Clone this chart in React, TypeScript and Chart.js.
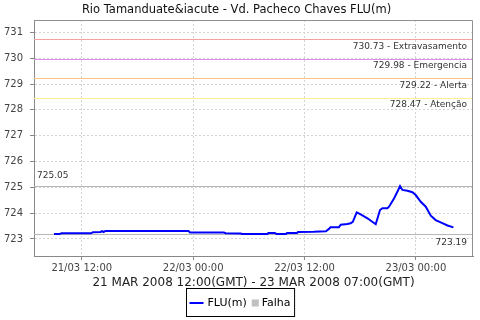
import React, { useEffect, useRef } from "react";
import { Chart, registerables } from "chart.js";

Chart.register(...registerables);

const chartTitle = "Rio Tamanduate&iacute - Vd. Pacheco Chaves FLU(m)";
const xAxisTitle = "21 MAR 2008 12:00(GMT) - 23 MAR 2008 07:00(GMT)";

// hours since 21/03 00:00 (local)
const hours = [
  9.0, 9.6, 9.8, 13.0, 13.2, 14.0, 14.2, 14.35, 14.55, 23.5, 23.65, 27.3, 27.5, 29.1,
  29.3, 32.0, 32.1, 32.8, 33.0, 34.0, 34.1, 35.2, 35.3, 37.0, 38.3, 38.6, 38.8, 39.7,
  39.9, 40.6, 40.97, 41.2, 41.62, 42.05, 42.77, 43.67, 44.13, 44.39, 44.93, 45.1,
  45.64, 46.0, 46.29, 46.54, 47.08, 47.62, 47.98, 48.52, 49.06, 49.6, 50.13, 50.85,
  51.4, 52.04,
];
const levels = [
  723.19, 723.19, 723.22, 723.22, 723.26, 723.27, 723.3, 723.27, 723.31, 723.31,
  723.25, 723.25, 723.22, 723.21, 723.19, 723.19, 723.23, 723.23, 723.19, 723.19,
  723.23, 723.23, 723.27, 723.28, 723.3, 723.38, 723.45, 723.45, 723.55, 723.58,
  723.61, 723.66, 724.03, 723.95, 723.8, 723.57, 724.12, 724.19, 724.19, 724.25,
  724.57, 724.83, 725.05, 724.9, 724.87, 724.81, 724.7, 724.44, 724.25, 723.9,
  723.73, 723.61, 723.52, 723.45,
];

const thresholdValues = [730.73, 729.98, 729.22, 728.47];
const thresholdNames = ["Extravasamento", "Emergencia", "Alerta", "Atenção"];
const maxLevel = 725.05;
const minLevel = 723.19;

const xTickValues = [12, 24, 36, 48];
const xTickLabels = ["21/03 12:00", "22/03 00:00", "22/03 12:00", "23/03 00:00"];
const yTickValues = [723, 724, 725, 726, 727, 728, 729, 730, 731];

const seriesLabels = ["FLU(m)", "Falha"];

const thresholdColors = ["#f2a0a0", "#dc8cec", "#ffc484", "#fff088"];
const FONT = '"DejaVu Sans", sans-serif';

const linesPlugin = {
  id: "levelLines",
  beforeDatasetsDraw(chart: any) {
    const { ctx, chartArea, scales } = chart;
    const y = scales.y;
    ctx.save();
    ctx.beginPath();
    ctx.rect(chartArea.left, chartArea.top, chartArea.right - chartArea.left, chartArea.bottom - chartArea.top);
    ctx.clip();
    ctx.lineWidth = 1.2;
    const hline = (v: number, color: string) => {
      const py = Math.round(y.getPixelForValue(v)) + 0.5;
      ctx.strokeStyle = color;
      ctx.beginPath();
      ctx.moveTo(chartArea.left, py);
      ctx.lineTo(chartArea.right, py);
      ctx.stroke();
    };
    thresholdValues.forEach((v, i) => hline(v, thresholdColors[i]));
    ctx.lineWidth = 1;
    hline(maxLevel, "#b8b8b8");
    hline(minLevel, "#b8b8b8");
    // top and right frame
    ctx.strokeStyle = "#909090";
    ctx.beginPath();
    ctx.moveTo(chartArea.left, chartArea.top + 0.5);
    ctx.lineTo(chartArea.right - 0.5, chartArea.top + 0.5);
    ctx.lineTo(chartArea.right - 0.5, chartArea.bottom);
    ctx.stroke();
    ctx.restore();
  },
  afterDraw(chart: any) {
    const { ctx, chartArea, scales } = chart;
    const y = scales.y;
    ctx.save();
    ctx.font = `9px ${FONT}`;
    ctx.fillStyle = "#333";
    ctx.textBaseline = "alphabetic";
    ctx.textAlign = "right";
    thresholdValues.forEach((v, i) => {
      const py = y.getPixelForValue(v);
      ctx.fillText(`${v.toFixed(2)} - ${thresholdNames[i]}`, chartArea.right - 6, py + 9.5);
    });
    ctx.fillText(minLevel.toFixed(2), chartArea.right - 6, y.getPixelForValue(minLevel) + 10.5);
    ctx.textAlign = "left";
    ctx.fillText(maxLevel.toFixed(2), chartArea.left + 3, y.getPixelForValue(maxLevel) - 8.5);

    // legend
    const ds = chart.data.datasets;
    ctx.font = `11px ${FONT}`;
    const w1 = ctx.measureText(ds[0].label).width;
    const w2 = ctx.measureText(ds[1].label).width;
    const total = 3 + 14 + 4 + w1 + 5 + 7 + 3 + w2 + 4;
    const bx = Math.round(chart.width / 2 - total / 2) + 0.5;
    const by = 288.5;
    const bh = 28;
    const cy = by + bh / 2 + 0.5;
    ctx.strokeStyle = "#000";
    ctx.lineWidth = 1;
    ctx.strokeRect(bx, by, total, bh);
    let x = bx + 3;
    ctx.strokeStyle = ds[0].borderColor;
    ctx.lineWidth = 2;
    ctx.beginPath();
    ctx.moveTo(x, cy);
    ctx.lineTo(x + 14, cy);
    ctx.stroke();
    x += 18;
    ctx.fillStyle = "#000";
    ctx.textBaseline = "middle";
    ctx.fillText(ds[0].label, x, cy);
    x += w1 + 5;
    ctx.fillStyle = ds[1].backgroundColor;
    ctx.fillRect(x, cy - 3.5, 7, 7);
    x += 10;
    ctx.fillStyle = "#000";
    ctx.fillText(ds[1].label, x, cy);
    ctx.restore();
  },
};

export default function App() {
  const ref = useRef<HTMLCanvasElement>(null);
  useEffect(() => {
    document.body.style.margin = "0";
    const chart = new Chart(ref.current!, {
      type: "line",
      data: {
        datasets: [
          {
            label: seriesLabels[0],
            data: hours.map((h, i) => ({ x: h, y: levels[i] })),
            borderColor: "#0000ff",
            backgroundColor: "#0000ff",
            borderWidth: 2,
            pointRadius: 0,
            tension: 0,
            fill: false,
          },
          {
            label: seriesLabels[1],
            data: [],
            borderColor: "#c0c0c0",
            backgroundColor: "#c0c0c0",
            pointRadius: 0,
          },
        ],
      },
      options: {
        responsive: false,
        animation: false,
        devicePixelRatio: 1,
        layout: { padding: { left: 0, right: 7, top: 0, bottom: 29.5 } },
        plugins: {
          legend: { display: false },
          tooltip: { enabled: false },
          title: {
            display: true,
            text: chartTitle,
            color: "#111",
            font: { family: FONT, size: 11.5, weight: "normal" },
            padding: { top: 3, bottom: 3.2 },
          },
        },
        scales: {
          x: {
            type: "linear",
            min: 6.85,
            max: 54.15,
            afterBuildTicks: (s: any) => {
              s.ticks = xTickValues.map((v) => ({ value: v }));
            },
            afterFit: (s: any) => {
              s.height = 34.5;
            },
            ticks: {
              callback: (v: any) => xTickLabels[xTickValues.indexOf(Number(v))] ?? "",
              font: { family: FONT, size: 10 },
              color: "#444",
              padding: 2,
              maxRotation: 0,
              autoSkip: false,
            },
            grid: { color: "#d4d4d4", tickColor: "#888", tickLength: 4, lineWidth: 1 },
            border: { color: "#888", width: 1, dash: [2, 2] },
            title: {
              display: true,
              text: xAxisTitle,
              color: "#222",
              font: { family: FONT, size: 12 },
              padding: { top: 0, bottom: 0 },
            },
          },
          y: {
            type: "linear",
            min: 722.34,
            max: 731.48,
            afterBuildTicks: (s: any) => {
              s.ticks = yTickValues.map((v) => ({ value: v }));
            },
            afterFit: (s: any) => {
              s.width = 34;
            },
            ticks: {
              callback: (v: any) => String(v),
              font: { family: FONT, size: 10 },
              color: "#444",
              padding: 7,
              autoSkip: false,
            },
            grid: { color: "#d4d4d4", tickColor: "#888", tickLength: 4, lineWidth: 1 },
            border: { color: "#888", width: 1, dash: [2, 2] },
          },
        },
      },
      plugins: [linesPlugin],
    });
    return () => chart.destroy();
  }, []);
  return (
    <div style={{ width: 480, height: 320 }}>
      <canvas ref={ref} width={480} height={320} style={{ display: "block" }} />
    </div>
  );
}
